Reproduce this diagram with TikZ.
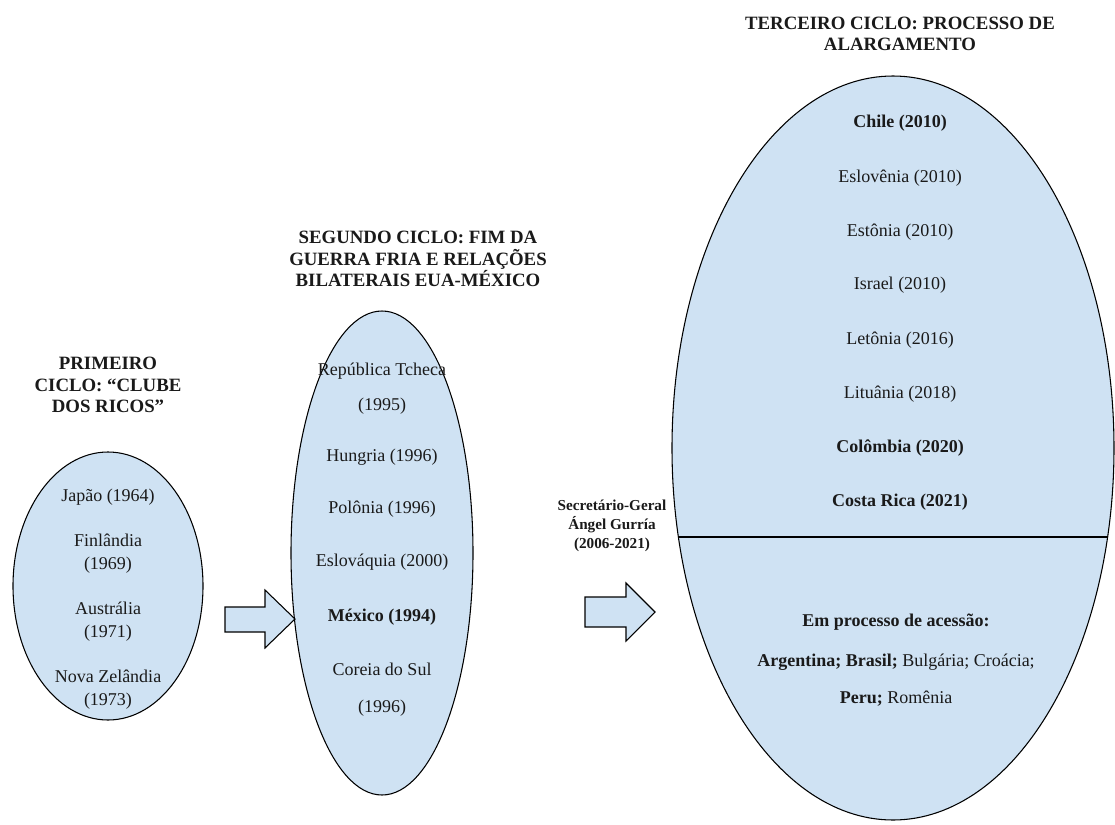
\documentclass[tikz,border=0pt]{standalone}
\usepackage{fontspec}
\setmainfont{Liberation Serif}
\usetikzlibrary{shapes.geometric}
\definecolor{bubfill}{HTML}{CFE2F3}
\definecolor{ink}{HTML}{1A1A1A}
\begin{document}
\begin{tikzpicture}[x=0.75pt,y=-0.75pt,
  bubble/.style={ellipse,draw=black,line width=0.8pt,fill=bubfill,inner sep=0pt},
  item/.style={text=ink,align=center,inner sep=0pt,font=\fontsize{13.5}{17.25}\selectfont},
  bitem/.style={item,font=\fontsize{13.5}{17.25}\selectfont\bfseries},
  ttl/.style={text=ink,align=center,inner sep=0pt,font=\fontsize{14.1}{16.1}\selectfont\bfseries},
  sml/.style={text=ink,align=center,inner sep=0pt,font=\fontsize{11.4}{14.2}\selectfont\bfseries},
  blockarrow/.style={draw=black,line width=0.8pt,fill=bubfill,line join=miter}
]
\useasboundingbox (0,0) rectangle (1115,825);
\fill[white] (0,0) rectangle (1115,825);

% ellipses
\node[bubble,minimum width=142.5pt,minimum height=201pt] (e1) at (108,586) {};
\node[bubble,minimum width=136.5pt,minimum height=363pt] (e2) at (382,553) {};
\node[bubble,minimum width=331.5pt,minimum height=558pt] (e3) at (893,448) {};
\coordinate (cutL) at (678.4,537);
\coordinate (cutR) at (1107.6,537);
\draw[line width=0.8pt] (cutL) -- (cutR);

% titles
\node[ttl] (t1) at (108,385) {PRIMEIRO\\CICLO: “CLUBE\\DOS RICOS”};
\node[ttl] (t2) at (418,259) {SEGUNDO CICLO: FIM DA\\GUERRA FRIA E RELAÇÕES\\BILATERAIS EUA-MÉXICO};
\node[ttl] (t3) at (900,34) {TERCEIRO CICLO: PROCESSO DE\\ALARGAMENTO};

% first ellipse
\node[item] (a1) at (108,497) {Japão (1964)};
\node[item] (a2) at (108,553.5) {Finlândia\\(1969)};
\node[item] (a3) at (108,621.5) {Austrália\\(1971)};
\node[item] (a4) at (108,689.5) {Nova Zelândia\\(1973)};

% second ellipse
\node[item] (b1) at (382,371) {República Tcheca};
\node[item] (b1y) at (382,406) {(1995)};
\node[item] (b2) at (382,457) {Hungria (1996)};
\node[item] (b3) at (382,509) {Polônia (1996)};
\node[item] (b4) at (382,562) {Eslováquia (2000)};
\node[bitem] (b5) at (382,617) {México (1994)};
\node[item] (b6) at (382,669) {Coreia do Sul};
\node[item] (b6y) at (382,708) {(1996)};

% third ellipse
\node[bitem] (c1) at (900,123) {Chile (2010)};
\node[item] (c2) at (900,178) {Eslovênia (2010)};
\node[item] (c3) at (900,232) {Estônia (2010)};
\node[item] (c4) at (900,285) {Israel (2010)};
\node[item] (c5) at (900,340) {Letônia (2016)};
\node[item] (c6) at (900,394) {Lituânia (2018)};
\node[bitem] (c7) at (900,448) {Colômbia (2020)};
\node[bitem] (c8) at (900,502) {Costa Rica (2021)};
\node[bitem] (d0) at (896,622) {Em processo de acessão:};
\node[item] (d1) at (896,662) {\textbf{Argentina; Brasil;} Bulgária; Croácia;};
\node[item] (d2) at (896,699) {\textbf{Peru;} Romênia};

% secretary label
\node[sml] (sg) at (612,526) {Secretário-Geral\\Ángel Gurría\\(2006-2021)};

% block arrows
\draw[blockarrow] (225,607) -- (265,607) -- (265,590) -- (295,619) -- (265,648) -- (265,632) -- (225,632) -- cycle;
\draw[blockarrow] (585,597) -- (626,597) -- (626,583) -- (655,612) -- (626,641) -- (626,627) -- (585,627) -- cycle;
\end{tikzpicture}
\end{document}
